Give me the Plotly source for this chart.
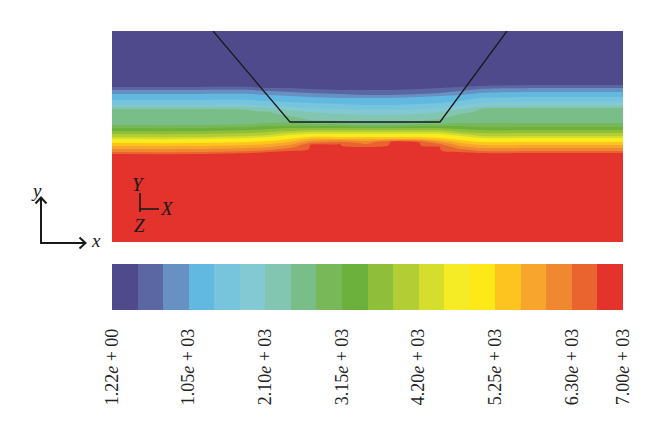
import numpy as np
import plotly.graph_objects as go

# ---------------- data ----------------
# contour levels (colour-band edges) and value range
VMIN = 1.22
VMAX = 7000.0
LEVELS = [350 * b for b in range(1, 20)]          # 350 ... 6650

# band colours, low -> high
BAND_COLORS = ["#4f4a8c", "#5b67a3", "#6790c3", "#61b9e2", "#77c5dd",
               "#82c9d3", "#82c5b1", "#79bd89", "#78b858", "#6bb13c",
               "#8fbf3a", "#b3ce34", "#d5de2c", "#f5ec25", "#fde917",
               "#fdc41f", "#f7a52c", "#ef8830", "#e9642e", "#e4322c"]

# colorbar ticks
TICK_VALS = [1.22, 1050, 2100, 3150, 4200, 5250, 6300, 7000]
TICK_TEXT = ["1.22<i>e</i> + 00", "1.05<i>e</i> + 03", "2.10<i>e</i> + 03",
             "3.15<i>e</i> + 03", "4.20<i>e</i> + 03", "5.25<i>e</i> + 03",
             "6.30<i>e</i> + 03", "7.00<i>e</i> + 03"]

# model extent (x across, depth from top down)
WIDTH = 511
HEIGHT = 211

# x stations where the band edges were read
STATION_X = [0, 88, 138, 158, 178, 198, 228, 253, 278, 308, 328, 348, 368, 428, 511]

# depth below the top edge of each level crossing (LEVELS order), per station
EDGE_DEPTH = [
    [56, 59, 63, 69, 74, 76, 78, 94, 97, 100, 103, 106, 108, 110, 112, 115, 118, 121, 123],
    [56, 59, 63, 69, 74, 76, 78, 94, 97, 100, 103, 106, 108, 110, 112, 115, 118, 121, 123],
    [56, 59, 63, 69, 74, 76, 79, 93, 96, 99, 102, 105, 107, 109, 111, 114, 117, 120, 122],
    [57, 60, 64, 70, 75, 77, 81, 92, 95, 98, 101, 104, 106, 108, 110, 113, 116, 119, 121],
    [57, 61, 65, 71, 76, 79, 85, 92, 95, 97, 100, 102, 104, 106, 108, 111, 114, 117, 120],
    [58, 62, 66, 72, 77, 81, 89, 93, 95, 97, 99, 101, 103, 105, 106, 108, 110, 112, 114],
    [59, 63, 67, 73, 78, 83, 90, 93, 95, 97, 99, 101, 103, 105, 106, 108, 109, 111, 112],
    [59, 64, 67, 74, 79, 84, 91, 94, 96, 97, 99, 101, 103, 105, 106, 108, 110, 113, 116],
    [59, 64, 67, 74, 79, 84, 91, 94, 96, 97, 99, 101, 103, 105, 106, 108, 109, 110, 111],
    [58, 63, 66, 73, 78, 83, 90, 93, 95, 97, 99, 101, 103, 105, 106, 108, 109, 110, 112],
    [57, 62, 65, 72, 77, 81, 88, 93, 95, 97, 99, 101, 103, 105, 107, 109, 111, 113, 116],
    [56, 60, 64, 70, 75, 78, 83, 92, 95, 98, 101, 103, 105, 107, 109, 112, 115, 118, 121],
    [55, 58, 62, 67, 72, 76, 78, 92, 96, 99, 102, 105, 107, 109, 111, 114, 117, 120, 122],
    [54, 57, 61, 66, 71, 75, 77, 92, 96, 99, 102, 105, 107, 109, 111, 114, 117, 120, 122],
    [54, 57, 61, 66, 71, 75, 77, 92, 96, 99, 102, 105, 107, 109, 111, 114, 117, 120, 122],
]

# trapezoid outline (x, height above bottom)
TRAP_X = [101, 178, 328, 395]
TRAP_Y = [211, 120, 120, 211]

# ---------------- build the grid the contour trace needs ----------------
heights = np.arange(0, HEIGHT + 1)
depths = HEIGHT - heights
z = np.zeros((len(heights), len(STATION_X)))
for j, edges in enumerate(EDGE_DEPTH):
    xp = [0] + edges + [HEIGHT]
    fp = [VMIN] + LEVELS + [VMAX]
    z[:, j] = np.interp(depths, xp, fp)

n = len(BAND_COLORS)
colorscale = [[k / (n - 1), c] for k, c in enumerate(BAND_COLORS)]

# ---------------- figure ----------------
OFF = 8                      # page body margin
W, H = 660 - OFF, 437 - OFF
ML, MT = 112 - OFF, 31 - OFF
MR = W - ML - WIDTH
MB = H - MT - HEIGHT
PX0, PY1 = 112, 242          # plot area left / bottom in screen pixels


def px_x(px):
    return (px - PX0) / WIDTH


def px_y(py):
    return (PY1 - py) / HEIGHT


SERIF = "Liberation Serif"

fig = go.Figure()
fig.add_trace(go.Contour(
    x=STATION_X, y=heights, z=z,
    zmin=0, zmax=VMAX, zauto=False,
    colorscale=colorscale,
    contours=dict(start=LEVELS[0], end=LEVELS[-1], size=350, coloring="fill",
                  showlines=False),
    line=dict(width=0),
    hoverinfo="skip",
    colorbar=dict(
        orientation="h",
        x=0, xanchor="left", xref="paper",
        y=px_y(264), yanchor="top", yref="paper",
        len=WIDTH, lenmode="pixels",
        thickness=46, thicknessmode="pixels",
        xpad=0, ypad=0,
        outlinewidth=0,
        tickmode="array", tickvals=TICK_VALS, ticktext=TICK_TEXT,
        tickangle=-90,
        ticks="outside", ticklen=12, tickcolor="rgba(0,0,0,0)",
        tickfont=dict(family=SERIF, size=18, color="#222"),
    ),
))

fig.add_trace(go.Scatter(
    x=TRAP_X, y=TRAP_Y, mode="lines",
    line=dict(color="#1a1a1a", width=1.3),
    hoverinfo="skip", showlegend=False,
))

shapes = []
black = dict(color="#1a1a1a", width=1.6)
# small triad inside the plot
shapes.append(dict(type="line", xref="paper", yref="paper",
                   x0=px_x(140), y0=px_y(193), x1=px_x(140), y1=px_y(212), line=black))
shapes.append(dict(type="line", xref="paper", yref="paper",
                   x0=px_x(140), y0=px_y(209), x1=px_x(159), y1=px_y(209), line=black))
# outer x / y arrows
ax = dict(color="#1a1a1a", width=2)
shapes.append(dict(type="line", xref="paper", yref="paper",
                   x0=px_x(41), y0=px_y(244), x1=px_x(41), y1=px_y(197), line=ax))
shapes.append(dict(type="line", xref="paper", yref="paper",
                   x0=px_x(40), y0=px_y(243), x1=px_x(85), y1=px_y(243), line=ax))
shapes.append(dict(type="path", xref="paper", yref="paper",
                   path=f"M {px_x(35.5)} {px_y(203.5)} L {px_x(41)} {px_y(197.5)} L {px_x(46.5)} {px_y(203.5)}",
                   line=ax))
shapes.append(dict(type="path", xref="paper", yref="paper",
                   path=f"M {px_x(79.5)} {px_y(237.5)} L {px_x(85.5)} {px_y(243)} L {px_x(79.5)} {px_y(248.5)}",
                   line=ax))

ann = []


def label(text, px, py, size=19):
    ann.append(dict(text=text, x=px_x(px), y=px_y(py), xref="paper", yref="paper",
                    showarrow=False, xanchor="center", yanchor="middle",
                    font=dict(family=SERIF, size=size, color="#1a1a1a")))


label("<i>Y</i>", 138, 184)
label("<i>X</i>", 167, 208)
label("<i>Z</i>", 139, 225)
label("<i>y</i>", 36, 190, 19)
label("<i>x</i>", 96, 240, 19)

fig.update_layout(
    width=W, height=H,
    margin=dict(l=ML, r=MR, t=MT, b=MB, pad=0),
    paper_bgcolor="white", plot_bgcolor="white",
    xaxis=dict(range=[0, WIDTH], visible=False, fixedrange=True),
    yaxis=dict(range=[0, HEIGHT], visible=False, fixedrange=True),
    shapes=shapes, annotations=ann, showlegend=False,
)

fig.write_html("out.html")
